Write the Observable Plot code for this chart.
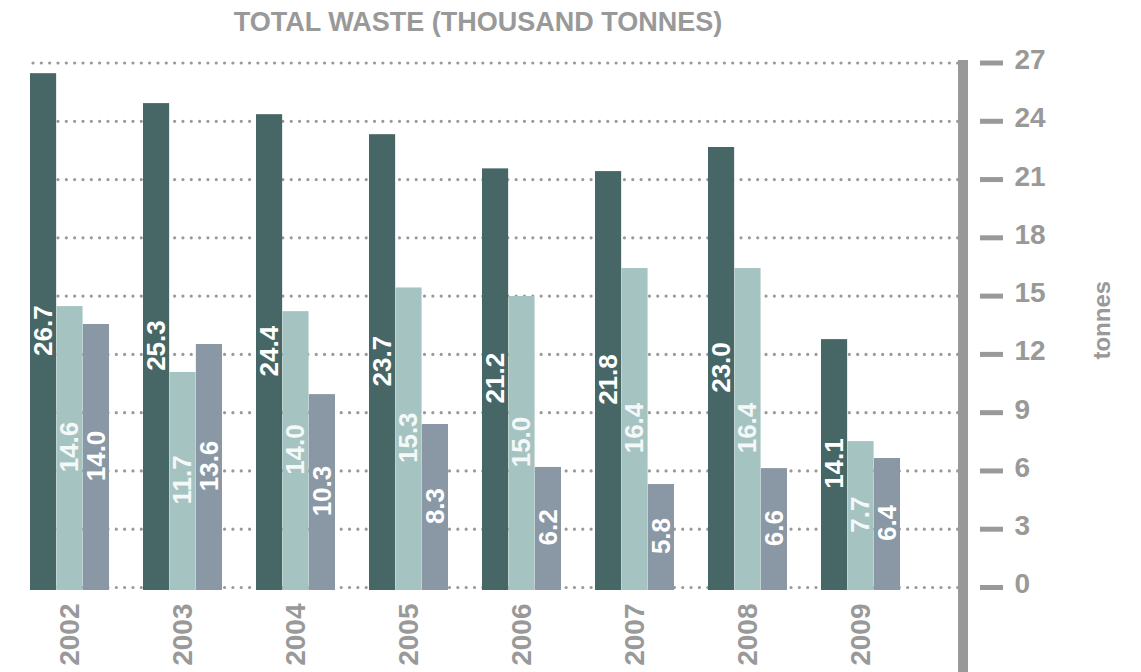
<!DOCTYPE html>
<html><head><meta charset="utf-8">
<script src="https://cdn.jsdelivr.net/npm/d3@7"></script>
<script src="https://cdn.jsdelivr.net/npm/@observablehq/plot@0.6"></script>
<style>
body{margin:0;background:#fff;font-family:"Liberation Sans",Arial,sans-serif;}
#title{width:956px;height:38px;padding-top:2px;line-height:40px;text-align:center;font-size:27px;font-weight:bold;color:#999;}
#chart svg{display:block;}
</style></head><body>
<div id="title">TOTAL WASTE (THOUSAND TONNES)</div>
<div id="chart"></div>
<script>
// Categories
const years = ["2002","2003","2004","2005","2006","2007","2008","2009"];
// Bar heights as drawn (tonnes)
const darkValues  = [26.45, 24.91, 24.34, 23.31, 21.55, 21.41, 22.65, 12.76];
const lightValues = [14.46, 11.07, 14.20, 15.42, 14.98, 16.42, 16.42, 7.51];
const greyValues  = [13.54, 12.51, 9.93, 8.39, 6.18, 5.30, 6.12, 6.64];
// Value labels printed on the bars
const darkLabels  = ["26.7","25.3","24.4","23.7","21.2","21.8","23.0","14.1"];
const lightLabels = ["14.6","11.7","14.0","15.3","15.0","16.4","16.4","7.7"];
const greyLabels  = ["14.0","13.6","10.3","8.3","6.2","5.8","6.6","6.4"];
// Axis ticks
const yTicks = [0, 3, 6, 9, 12, 15, 18, 21, 24, 27];
const axisLabel = "tonnes";

const seriesDefs = [
  {values: darkValues,  labels: darkLabels,  fill: "#466765", text: "#ffffff", insetLeft: 0,     insetRight: 52.86, dx: -26.43},
  {values: lightValues, labels: lightLabels, fill: "#a5c4c1", text: "#f4f8f8", insetLeft: 26.43, insetRight: 26.43, dx: 0},
  {values: greyValues,  labels: greyLabels,  fill: "#8a97a4", text: "#ffffff", insetLeft: 52.86, insetRight: 0,     dx: 26.43}
];

const gray = "#999999";
const font = "'Liberation Sans', Arial, sans-serif";

const marks = [
  Plot.ruleY(yTicks, {stroke: gray, strokeWidth: 3.2, strokeDasharray: "0 8.33", strokeLinecap: "round"})
];

for (const s of seriesDefs) {
  const rows = years.map((year, i) => ({year, value: s.values[i], label: s.labels[i]}));
  marks.push(Plot.barY(rows, {x: "year", y: "value", fill: s.fill, insetLeft: s.insetLeft, insetRight: s.insetRight, insetBottom: -3}));
  marks.push(Plot.text(rows, {x: "year", y: d => d.value / 2, text: "label", rotate: -90, dx: s.dx,
    fill: s.text, fontSize: 26, fontWeight: "bold", textAnchor: "middle", lineAnchor: "middle"}));
}

// Year labels
marks.push(Plot.text(years, {x: d => d, text: d => d, frameAnchor: "bottom", rotate: -90, dy: 16,
  textAnchor: "end", lineAnchor: "middle", fill: gray, fontSize: 28, fontWeight: "bold"}));

// Thick vertical axis bar
marks.push((index, scales, values, dimensions) => {
  const x = dimensions.width - dimensions.marginRight;
  return d3.create("svg:line")
    .attr("x1", x).attr("x2", x)
    .attr("y1", scales.y(27) - 2.5).attr("y2", dimensions.height)
    .attr("stroke", gray).attr("stroke-width", 10).node();
});

// Tick dashes
marks.push(Plot.axisY(yTicks, {anchor: "right", tickSize: 23, dx: 16, strokeWidth: 5, stroke: gray, fill: "none", label: null}));
// Tick labels
marks.push(Plot.axisY(yTicks, {anchor: "right", tickSize: 0, tickPadding: 51, dy: -3, fill: gray, stroke: "none",
  fontSize: 28, fontWeight: "bold", label: null}));

// Axis title
marks.push(Plot.text([axisLabel], {text: d => d, frameAnchor: "right", rotate: -90, dx: 139, dy: -5,
  fill: gray, fontSize: 24, fontWeight: "bold", textAnchor: "middle", lineAnchor: "middle"}));

const chart = Plot.plot({
  width: 1141,
  height: 632,
  marginTop: 22.5,
  marginBottom: 85,
  marginLeft: 33,
  marginRight: 178,
  style: {fontFamily: font, background: "white", overflow: "visible"},
  x: {type: "band", domain: years, range: [29.3, 901.4], paddingInner: 0.3, paddingOuter: 0, axis: null},
  y: {domain: [0, 27]},
  marks
});
document.getElementById("chart").append(chart);
</script>
</body></html>
